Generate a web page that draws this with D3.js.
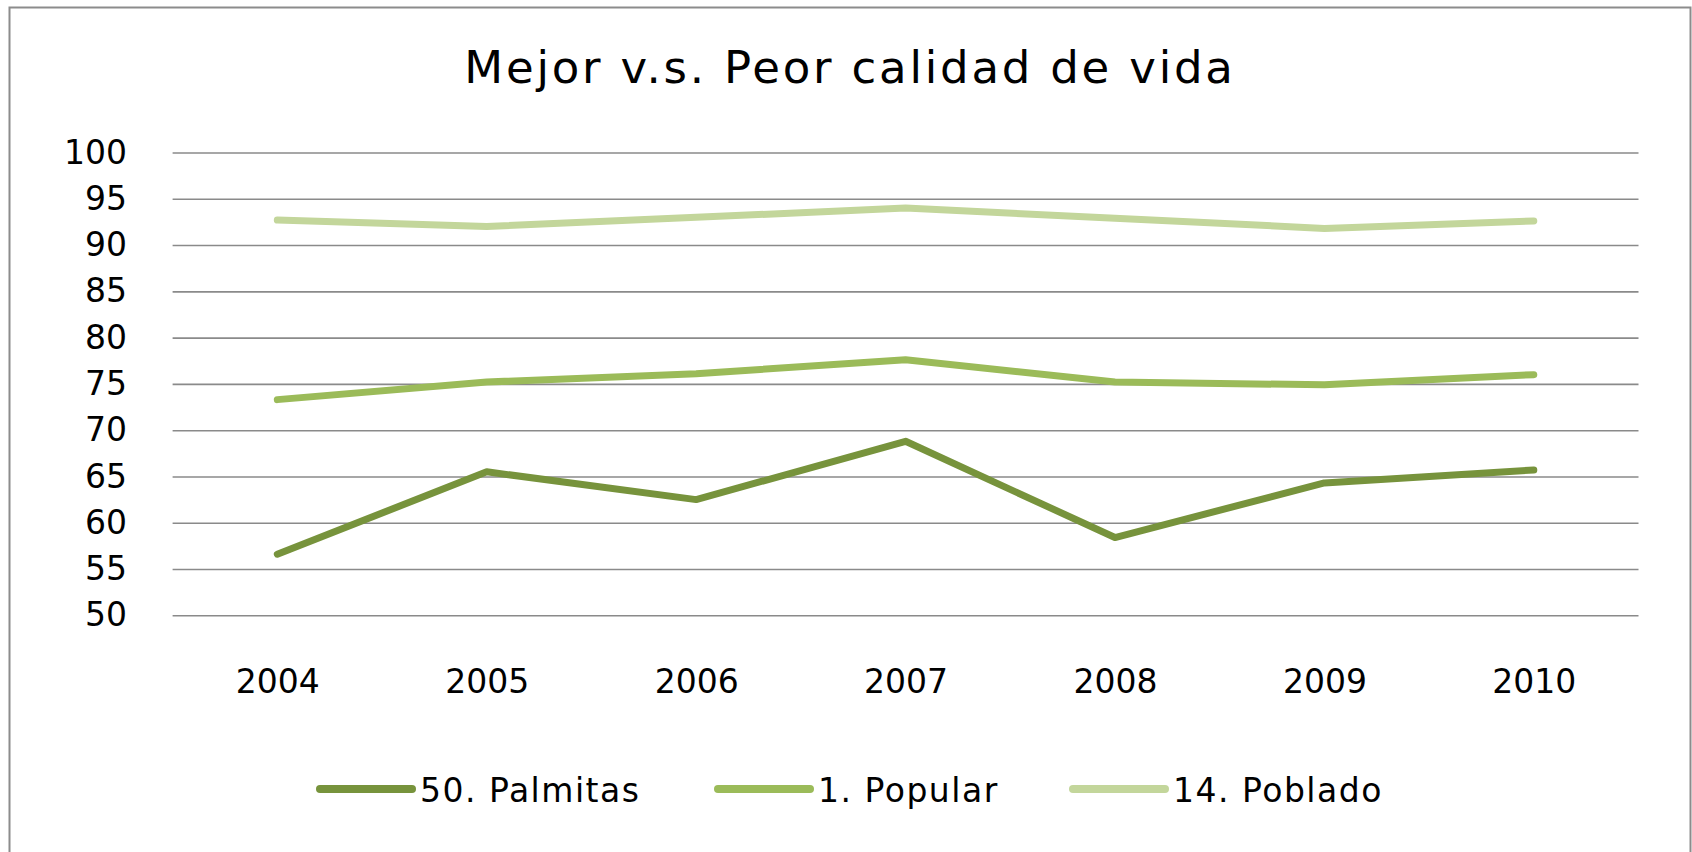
<!DOCTYPE html>
<html>
<head>
<meta charset="utf-8">
<script src="https://cdn.jsdelivr.net/npm/d3@7"></script>
<style>
  html, body { margin: 0; padding: 0; background: #fff; }
  svg { display: block; font-family: "DejaVu Sans", Verdana, sans-serif; }
</style>
</head>
<body>
<svg id="chart" width="1692" height="852"></svg>
<script>
// data
var years = ["2004", "2005", "2006", "2007", "2008", "2009", "2010"];
var seriesNames = ["50. Palmitas", "1. Popular", "14. Poblado"];
var palmitas = [56.6, 65.5, 62.5, 68.8, 58.4, 64.3, 65.7];
var popular = [73.3, 75.2, 76.1, 77.6, 75.2, 74.9, 76.0];
var poblado = [92.7, 92.0, 93.0, 94.0, 92.9, 91.8, 92.6];
var yTicks = [50, 55, 60, 65, 70, 75, 80, 85, 90, 95, 100];
var colors = ["#77933c", "#9bbb59", "#c3d69b"];

var DrawChart = function(){
  var series = [palmitas, popular, poblado].map(function(vals, i){
    return { name: seriesNames[i], color: colors[i],
             values: vals.map(function(v, j){ return { year: years[j], value: v }; }) };
  });

  var svg = d3.select("#chart");
  var plotLeft = 172.6, plotRight = 1638.5, plotTop = 152.5, plotBottom = 615.3;

  // chart frame
  svg.append("rect")
      .attr("x", 9.5).attr("y", 7.5)
      .attr("width", 1681).attr("height", 900)
      .attr("fill", "#fff")
      .attr("stroke", "#8c8c8c")
      .attr("stroke-width", 2);

  svg.append("text")
      .attr("x", 850).attr("y", 83)
      .attr("text-anchor", "middle")
      .attr("font-size", 45)
      .attr("letter-spacing", 2.8)
      .attr("fill", "#000")
      .text("Mejor v.s. Peor calidad de vida");

  var x = d3.scalePoint().domain(years).range([plotLeft, plotRight]).padding(0.5);
  var y = d3.scaleLinear().domain([50, 100]).range([plotBottom, plotTop]);

  // y axis with gridlines
  var yAxis = svg.append("g")
      .attr("transform", "translate(" + plotLeft + ",0)")
      .call(d3.axisLeft(y).tickValues(yTicks).tickSize(-(plotRight - plotLeft)).tickPadding(45.5));
  yAxis.select(".domain").remove();
  yAxis.selectAll(".tick line").attr("stroke", "#8a8a8a").attr("stroke-width", 1.6);
  yAxis.selectAll(".tick text")
      .attr("font-size", 33)
      .attr("font-family", "DejaVu Sans, sans-serif")
      .attr("fill", "#000");

  // x axis labels
  var xAxis = svg.append("g")
      .attr("transform", "translate(0," + plotBottom + ")")
      .call(d3.axisBottom(x).tickSize(0).tickPadding(0));
  xAxis.select(".domain").remove();
  xAxis.selectAll(".tick text")
      .attr("y", 78).attr("dy", null)
      .attr("font-size", 33)
      .attr("font-family", "DejaVu Sans, sans-serif")
      .attr("fill", "#000");

  var line = d3.line()
      .x(function(d){ return x(d.year); })
      .y(function(d){ return y(d.value); });

  svg.append("g").selectAll("path")
      .data(series)
      .enter().append("path")
      .attr("d", function(d){ return line(d.values); })
      .attr("fill", "none")
      .attr("stroke", function(d){ return d.color; })
      .attr("stroke-width", 7)
      .attr("stroke-linecap", "round")
      .attr("stroke-linejoin", "round");

  // legend
  var legendX = [320, 718, 1073];
  var legend = svg.append("g").selectAll("g")
      .data(series)
      .enter().append("g")
      .attr("transform", function(d, i){ return "translate(" + legendX[i] + ",789)"; });
  legend.append("line")
      .attr("x1", 0).attr("x2", 92)
      .attr("stroke", function(d){ return d.color; })
      .attr("stroke-width", 8)
      .attr("stroke-linecap", "round");
  legend.append("text")
      .attr("x", 100).attr("y", 12.5)
      .attr("font-size", 33)
      .attr("letter-spacing", 1.5)
      .attr("fill", "#000")
      .text(function(d){ return d.name; });
};

DrawChart();
</script>
</body>
</html>
